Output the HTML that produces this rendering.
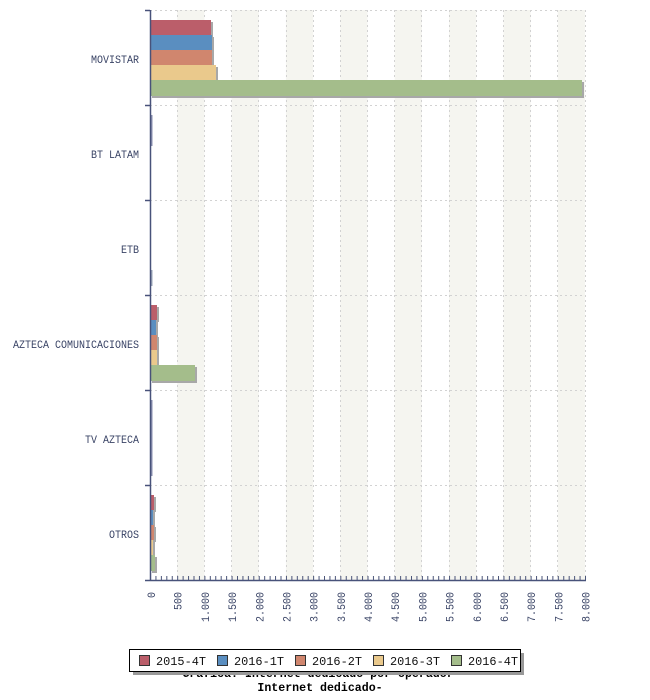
<!DOCTYPE html>
<html><head><meta charset="utf-8"><style>
html,body{margin:0;padding:0;background:#fff;}
svg{display:block;}
text{font-family:"Liberation Mono","DejaVu Sans Mono",monospace;}
.lb{font-family:"DejaVu Sans Mono","Liberation Mono",monospace;}
</style></head><body>
<svg width="650" height="700" viewBox="0 0 650 700" xmlns="http://www.w3.org/2000/svg">
<defs>
<pattern id="mt" patternUnits="userSpaceOnUse" x="150" y="0" width="5.4375" height="700">
<rect x="0" y="576" width="1" height="4" fill="#4a5478"/>
</pattern>
</defs>
<rect width="650" height="700" fill="#fff"/>
<!-- bands -->
<g fill="#f5f5f0">
<rect x="177.19" y="10" width="27.19" height="570"/>
<rect x="231.56" y="10" width="27.19" height="570"/>
<rect x="285.94" y="10" width="27.19" height="570"/>
<rect x="340.31" y="10" width="27.19" height="570"/>
<rect x="394.69" y="10" width="27.19" height="570"/>
<rect x="449.06" y="10" width="27.19" height="570"/>
<rect x="503.44" y="10" width="27.19" height="570"/>
<rect x="557.81" y="10" width="27.19" height="570"/>
</g>
<!-- grid -->
<g stroke="#d2d2d2" stroke-width="1" stroke-dasharray="2,3" fill="none">
<line x1="177.5" y1="10" x2="177.5" y2="580"/>
<line x1="204.5" y1="10" x2="204.5" y2="580"/>
<line x1="231.5" y1="10" x2="231.5" y2="580"/>
<line x1="258.5" y1="10" x2="258.5" y2="580"/>
<line x1="286.5" y1="10" x2="286.5" y2="580"/>
<line x1="313.5" y1="10" x2="313.5" y2="580"/>
<line x1="340.5" y1="10" x2="340.5" y2="580"/>
<line x1="367.5" y1="10" x2="367.5" y2="580"/>
<line x1="394.5" y1="10" x2="394.5" y2="580"/>
<line x1="421.5" y1="10" x2="421.5" y2="580"/>
<line x1="449.5" y1="10" x2="449.5" y2="580"/>
<line x1="476.5" y1="10" x2="476.5" y2="580"/>
<line x1="503.5" y1="10" x2="503.5" y2="580"/>
<line x1="530.5" y1="10" x2="530.5" y2="580"/>
<line x1="557.5" y1="10" x2="557.5" y2="580"/>
<line x1="585.5" y1="10" x2="585.5" y2="580"/>
<line x1="150" y1="10.5" x2="586" y2="10.5"/>
<line x1="150" y1="105.5" x2="586" y2="105.5"/>
<line x1="150" y1="200.5" x2="586" y2="200.5"/>
<line x1="150" y1="295.5" x2="586" y2="295.5"/>
<line x1="150" y1="390.5" x2="586" y2="390.5"/>
<line x1="150" y1="485.5" x2="586" y2="485.5"/>
</g>
<!-- bars: shadows -->
<g fill="#a8a8a8">
<rect x="152" y="22" width="61" height="15"/>
<rect x="152" y="37" width="62" height="15"/>
<rect x="152" y="52" width="62" height="15"/>
<rect x="152" y="67" width="66" height="15"/>
<rect x="152" y="82" width="432" height="16"/>
<rect x="152" y="307" width="7" height="15"/>
<rect x="152" y="322" width="6" height="15"/>
<rect x="152" y="337" width="7" height="15"/>
<rect x="152" y="352" width="7" height="15"/>
<rect x="152" y="367" width="45" height="16"/>
<rect x="152" y="497" width="4" height="15"/>
<rect x="152" y="512" width="3" height="15"/>
<rect x="152" y="527" width="4" height="15"/>
<rect x="152" y="542" width="3" height="15"/>
<rect x="152" y="557" width="5" height="16"/>
</g>
<!-- MOVISTAR -->
<rect x="151" y="20" width="60" height="15" fill="#bb5e6a"/>
<rect x="151" y="35" width="61" height="15" fill="#5a8ec0"/>
<rect x="151" y="50" width="61" height="15" fill="#d0866e"/>
<rect x="151" y="65" width="65" height="15" fill="#eac98c"/>
<rect x="151" y="80" width="431" height="16" fill="#a4bd8b"/>
<!-- BT LATAM -->
<rect x="151" y="115" width="1.5" height="15" fill="#8a8fb0"/>
<rect x="151" y="130" width="1.5" height="16" fill="#8a8fb0"/>
<!-- ETB -->
<rect x="151" y="270" width="1.5" height="16" fill="#9aa4b8"/>
<!-- AZTECA -->
<rect x="151" y="305" width="6" height="15" fill="#bb5e6a"/>
<rect x="151" y="320" width="5" height="15" fill="#5a8ec0"/>
<rect x="151" y="335" width="6" height="15" fill="#d0866e"/>
<rect x="151" y="350" width="6" height="15" fill="#eac98c"/>
<rect x="151" y="365" width="44" height="16" fill="#a4bd8b"/>
<!-- TV AZTECA -->
<rect x="151" y="400" width="1.5" height="76" fill="#8a8fb0"/>
<!-- OTROS -->
<rect x="151" y="495" width="3" height="15" fill="#bb5e6a"/>
<rect x="151" y="510" width="2" height="15" fill="#5a8ec0"/>
<rect x="151" y="525" width="3" height="15" fill="#d0866e"/>
<rect x="151" y="540" width="2" height="15" fill="#eac98c"/>
<rect x="151" y="555" width="4" height="16" fill="#a4bd8b"/>
<!-- axes -->
<rect x="150" y="571" width="437" height="9" fill="url(#mt)"/>
<g stroke="#48527a" stroke-width="1.5" fill="none">
<line x1="150.5" y1="10" x2="150.5" y2="581"/>
<line x1="145" y1="580.5" x2="586" y2="580.5"/>
<line x1="145" y1="10.5" x2="150" y2="10.5"/>
<line x1="145" y1="105.5" x2="150" y2="105.5"/>
<line x1="145" y1="200.5" x2="150" y2="200.5"/>
<line x1="145" y1="295.5" x2="150" y2="295.5"/>
<line x1="145" y1="390.5" x2="150" y2="390.5"/>
<line x1="145" y1="485.5" x2="150" y2="485.5"/>
</g>
<!-- category labels -->
<g class="lb" font-size="11" fill="#3a4466" text-anchor="end" lengthAdjust="spacingAndGlyphs">
<text x="139" y="63" textLength="48" lengthAdjust="spacingAndGlyphs">MOVISTAR</text>
<text x="139" y="158" textLength="48" lengthAdjust="spacingAndGlyphs">BT LATAM</text>
<text x="139" y="253" textLength="18" lengthAdjust="spacingAndGlyphs">ETB</text>
<text x="139" y="348" textLength="126" lengthAdjust="spacingAndGlyphs">AZTECA COMUNICACIONES</text>
<text x="139" y="443" textLength="54" lengthAdjust="spacingAndGlyphs">TV AZTECA</text>
<text x="139" y="538" textLength="30" lengthAdjust="spacingAndGlyphs">OTROS</text>
</g>
<!-- x tick labels -->
<g class="lb" font-size="11" fill="#3a4466" text-anchor="end">
<text transform="translate(155,592) rotate(-90)" textLength="6" lengthAdjust="spacingAndGlyphs">0</text>
<text transform="translate(181.7,592) rotate(-90)" textLength="18" lengthAdjust="spacingAndGlyphs">500</text>
<text transform="translate(208.9,592) rotate(-90)" textLength="30" lengthAdjust="spacingAndGlyphs">1.000</text>
<text transform="translate(236.1,592) rotate(-90)" textLength="30" lengthAdjust="spacingAndGlyphs">1.500</text>
<text transform="translate(263.3,592) rotate(-90)" textLength="30" lengthAdjust="spacingAndGlyphs">2.000</text>
<text transform="translate(290.4,592) rotate(-90)" textLength="30" lengthAdjust="spacingAndGlyphs">2.500</text>
<text transform="translate(317.6,592) rotate(-90)" textLength="30" lengthAdjust="spacingAndGlyphs">3.000</text>
<text transform="translate(344.8,592) rotate(-90)" textLength="30" lengthAdjust="spacingAndGlyphs">3.500</text>
<text transform="translate(372,592) rotate(-90)" textLength="30" lengthAdjust="spacingAndGlyphs">4.000</text>
<text transform="translate(399.2,592) rotate(-90)" textLength="30" lengthAdjust="spacingAndGlyphs">4.500</text>
<text transform="translate(426.4,592) rotate(-90)" textLength="30" lengthAdjust="spacingAndGlyphs">5.000</text>
<text transform="translate(453.6,592) rotate(-90)" textLength="30" lengthAdjust="spacingAndGlyphs">5.500</text>
<text transform="translate(480.8,592) rotate(-90)" textLength="30" lengthAdjust="spacingAndGlyphs">6.000</text>
<text transform="translate(507.9,592) rotate(-90)" textLength="30" lengthAdjust="spacingAndGlyphs">6.500</text>
<text transform="translate(535.1,592) rotate(-90)" textLength="30" lengthAdjust="spacingAndGlyphs">7.000</text>
<text transform="translate(562.3,592) rotate(-90)" textLength="30" lengthAdjust="spacingAndGlyphs">7.500</text>
<text transform="translate(589.5,592) rotate(-90)" textLength="30" lengthAdjust="spacingAndGlyphs">8.000</text>
</g>
<!-- title -->
<g font-size="11.6" font-weight="bold" fill="#000" text-anchor="middle">
<text x="318" y="677">Grafica: Internet dedicado por operador</text>
<text x="320" y="691">Internet dedicado-</text>
</g>
<!-- legend -->
<rect x="133" y="653" width="391" height="22" fill="#999"/>
<rect x="129.5" y="649.5" width="391" height="22" fill="#fff" stroke="#000" stroke-width="1"/>
<g stroke="#333" stroke-width="1">
<rect x="139.5" y="655.5" width="10" height="10" fill="#bb5e6a"/>
<rect x="217.5" y="655.5" width="10" height="10" fill="#5a8ec0"/>
<rect x="295.5" y="655.5" width="10" height="10" fill="#d0866e"/>
<rect x="373.5" y="655.5" width="10" height="10" fill="#eac98c"/>
<rect x="451.5" y="655.5" width="10" height="10" fill="#a4bd8b"/>
</g>
<g class="lb" font-size="12" fill="#111">
<text x="156" y="665" textLength="50" lengthAdjust="spacingAndGlyphs">2015-4T</text>
<text x="234" y="665" textLength="50" lengthAdjust="spacingAndGlyphs">2016-1T</text>
<text x="312" y="665" textLength="50" lengthAdjust="spacingAndGlyphs">2016-2T</text>
<text x="390" y="665" textLength="50" lengthAdjust="spacingAndGlyphs">2016-3T</text>
<text x="468" y="665" textLength="50" lengthAdjust="spacingAndGlyphs">2016-4T</text>
</g>
</svg>
</body></html>
